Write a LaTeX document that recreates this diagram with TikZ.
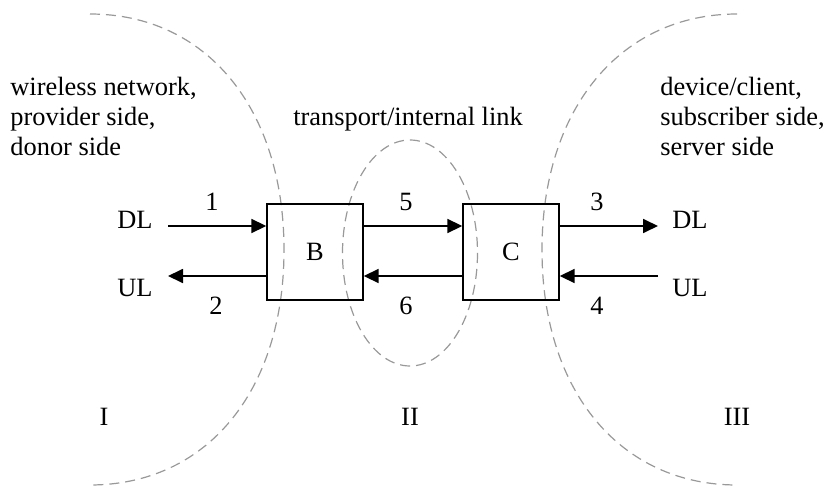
\documentclass[tikz,border=0pt]{standalone}
\usepackage{fontspec}
\setmainfont{Liberation Serif}
\usetikzlibrary{arrows.meta}

\begin{document}
\begin{tikzpicture}[x=0.5pt,y=-0.5pt,
    every node/.style={font=\fontsize{13.2}{15}\selectfont, inner sep=0pt},
    unit/.style={draw, line width=0.7pt, minimum width=48pt, minimum height=48pt},
    flow/.style={-{Triangle[length=7.5pt,width=7pt]}, line width=0.9pt},
    zone/.style={draw=gray!80, line width=0.6pt, dash pattern=on 5pt off 3pt}]
    \useasboundingbox (0,0) rectangle (825,487);

    % zone borders
    \draw[zone] (90,14) .. controls (206,14) and (284,108) .. (284,250)
        .. controls (284,392) and (206,485) .. (90,485);
    \draw[zone] (737,14) .. controls (621,14) and (542,108) .. (542,250)
        .. controls (542,392) and (621,485) .. (737,485);
    \draw[zone] (410,253) ellipse [x radius=67.5, y radius=113];

    \node[unit] (boxB) at (315,252) {B};
    \node[unit] (boxC) at (511,252) {C};

    \node (dlLeft) at (135,220) {DL};
    \node (ulLeft) at (135,288) {UL};
    \node (dlRight) at (690,220) {DL};
    \node (ulRight) at (690,288) {UL};

    \node (link1) at (212,202) {1};
    \node (link2) at (216,306) {2};
    \node (link5) at (406,202) {5};
    \node (link6) at (406,306) {6};
    \node (link3) at (597,202) {3};
    \node (link4) at (597,306) {4};

    \node (zoneI) at (104,417) {I};
    \node (zoneII) at (410,417) {II};
    \node (zoneIII) at (737,417) {III};

    \node[anchor=north west, align=left] (providerText) at (10,77) {wireless network,\\provider side,\\donor side};
    \node[anchor=base] (transportText) at (408,125) {transport/internal link};
    \node[anchor=north west, align=left] (subscriberText) at (660,77) {device/client,\\subscriber side,\\server side};

    \coordinate (dlIn) at (168,226);
    \coordinate (ulOut) at (168,276);
    \coordinate (dlOut) at (658,226);
    \coordinate (ulIn) at (658,276);

\draw[flow] (dlIn) -- (dlIn -| boxB.west);
\draw[flow] (ulOut -| boxB.west) -- (ulOut);
\draw[flow] (dlIn -| boxB.east) -- (dlIn -| boxC.west);
\draw[flow] (ulOut -| boxC.west) -- (ulOut -| boxB.east);
\draw[flow] (dlOut -| boxC.east) -- (dlOut);
\draw[flow] (ulIn) -- (ulIn -| boxC.east);

\end{tikzpicture}
\end{document}
